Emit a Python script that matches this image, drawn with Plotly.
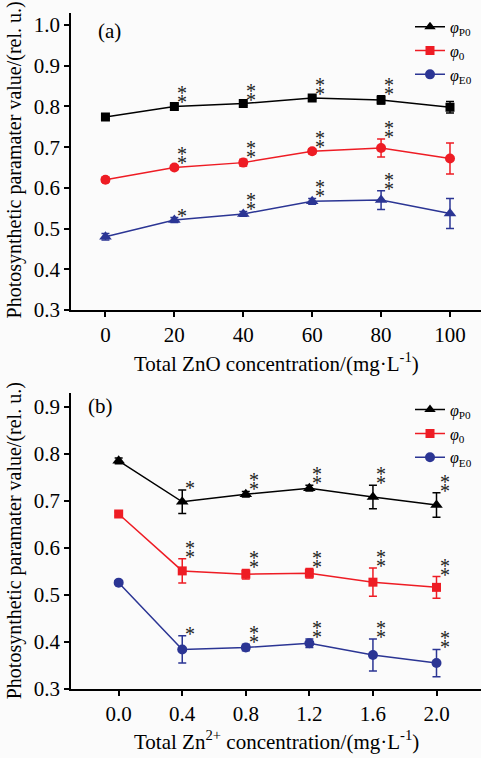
import plotly.graph_objects as go

# ---------------- data ----------------
zno_conc = [0, 20, 40, 60, 80, 100]
a_phiP0 = [0.774, 0.800, 0.807, 0.821, 0.816, 0.798]
a_phiP0_err = [0.004, 0.005, 0.004, 0.004, 0.010, 0.014]
a_phi0 = [0.620, 0.650, 0.662, 0.690, 0.698, 0.672]
a_phi0_err = [0.006, 0.005, 0.008, 0.006, 0.022, 0.038]
a_phiE0 = [0.480, 0.521, 0.536, 0.567, 0.570, 0.537]
a_phiE0_err = [0.008, 0.006, 0.006, 0.007, 0.023, 0.037]
a_sig_P0 = [0, 2, 2, 2, 2, 0]
a_sig_0 = [0, 2, 2, 2, 2, 0]
a_sig_E0 = [0, 1, 2, 2, 2, 0]

zn_conc = [0.0, 0.4, 0.8, 1.2, 1.6, 2.0]
b_phiP0 = [0.785, 0.698, 0.714, 0.727, 0.708, 0.691]
b_phiP0_err = [0.006, 0.025, 0.006, 0.006, 0.025, 0.026]
b_phi0 = [0.672, 0.551, 0.544, 0.546, 0.527, 0.516]
b_phi0_err = [0.004, 0.026, 0.010, 0.010, 0.030, 0.023]
b_phiE0 = [0.526, 0.384, 0.388, 0.397, 0.372, 0.355]
b_phiE0_err = [0.004, 0.029, 0.007, 0.009, 0.034, 0.029]
b_sig_P0 = [0, 1, 2, 2, 2, 2]
b_sig_0 = [0, 2, 2, 2, 2, 2]
b_sig_E0 = [0, 1, 2, 2, 2, 2]

x_ticks_a = [0, 20, 40, 60, 80, 100]
x_ticks_b = [0.0, 0.4, 0.8, 1.2, 1.6, 2.0]
x_ticktext_b = ["0.0", "0.4", "0.8", "1.2", "1.6", "2.0"]

names = ["<i>φ</i><sub>P0</sub>", "<i>φ</i><sub>0</sub>", "<i>φ</i><sub>E0</sub>"]
colors = ["#000000", "#ee1c24", "#2b3594"]
legend_symbols = ["triangle-up", "square", "circle"]

FONT = "Liberation Serif"
W, H = 481, 758
BG = "#fbfbfb"

fig = go.Figure()


def add_series(x, y, err, color, symbol, xa, ya, size):
    fig.add_trace(go.Scatter(
        x=x, y=y, mode="lines+markers", showlegend=False,
        line=dict(color=color, width=1.5),
        marker=dict(symbol=symbol, size=size, color=color),
        error_y=dict(type="data", array=err, visible=True, color=color,
                     thickness=1.5, width=4),
        xaxis=xa, yaxis=ya))


# panel (a): markers differ from legend (as in original)
add_series(zno_conc, a_phiP0, a_phiP0_err, colors[0], "square", "x", "y", 9)
add_series(zno_conc, a_phi0, a_phi0_err, colors[1], "circle", "x", "y", 10)
add_series(zno_conc, a_phiE0, a_phiE0_err, colors[2], "triangle-up", "x", "y", 11)
# panel (b)
add_series(zn_conc, b_phiP0, b_phiP0_err, colors[0], "triangle-up", "x2", "y2", 11)
add_series(zn_conc, b_phi0, b_phi0_err, colors[1], "square", "x2", "y2", 9)
add_series(zn_conc, b_phiE0, b_phiE0_err, colors[2], "circle", "x2", "y2", 10)

# legend-only traces
for lg, xa, ya in [("legend", "x", "y"), ("legend2", "x2", "y2")]:
    for nm, c, s in zip(names, colors, legend_symbols):
        fig.add_trace(go.Scatter(
            x=[None], y=[None], mode="lines+markers", name=nm, legend=lg,
            line=dict(color=c, width=1.5),
            marker=dict(symbol=s, size=10 if s != "square" else 9, color=c),
            xaxis=xa, yaxis=ya))

# significance asterisks
ann = []


def add_stars(x, y, err, sig, xref, yref):
    for xi, yi, ei, n in zip(x, y, err, sig):
        for k in range(n):
            ann.append(dict(x=xi, y=yi + ei, xref=xref, yref=yref, text="*",
                            showarrow=False, xanchor="center", yanchor="middle",
                            xshift=8, yshift=2 + 9 * k,
                            font=dict(family=FONT, size=20, color="#222222")))


add_stars(zno_conc, a_phiP0, a_phiP0_err, a_sig_P0, "x", "y")
add_stars(zno_conc, a_phi0, a_phi0_err, a_sig_0, "x", "y")
add_stars(zno_conc, a_phiE0, a_phiE0_err, a_sig_E0, "x", "y")
add_stars(zn_conc, b_phiP0, b_phiP0_err, b_sig_P0, "x2", "y2")
add_stars(zn_conc, b_phi0, b_phi0_err, b_sig_0, "x2", "y2")
add_stars(zn_conc, b_phiE0, b_phiE0_err, b_sig_E0, "x2", "y2")

# panel labels & axis titles
xl, xr = 71 / W, 1.0
a_top, a_bot = 1 - 13 / H, 1 - 315 / H
b_top, b_bot = 1 - 399 / H, 1 - 700 / H


def txt(x, y, text, size, angle=0):
    return dict(x=x, y=y, xref="paper", yref="paper", text=text,
                textangle=angle, showarrow=False, xanchor="center",
                yanchor="middle",
                font=dict(family=FONT, size=size, color="black"))


ann += [
    txt(109 / W, 1 - 32 / H, "(a)", 21),
    txt(100 / W, 1 - 413 / H, "(b)", 21),
    txt(14 / W, 1 - 163 / H,
        "Photosynthetic paramater value/(rel. u.)", 20, -90),
    txt(14 / W, 1 - 550 / H,
        "Photosynthetic paramater value/(rel. u.)", 20, -90),
    txt((71 + 481) / 2 / W, 1 - 368 / H,
        "Total ZnO concentration/(mg·L<sup>-1</sup>)", 21),
    txt((71 + 481) / 2 / W, 1 - 752 / H,
        "Total Zn<sup>2+</sup> concentration/(mg·L<sup>-1</sup>)", 21),
]

axis_common = dict(showline=True, linecolor="black", linewidth=1.5,
                   ticks="outside", ticklen=5, tickwidth=1.5, tickcolor="black",
                   showgrid=False, zeroline=False, mirror=False,
                   tickfont=dict(family=FONT, size=21, color="black"))

fig.update_layout(
    width=W, height=H,
    margin=dict(l=0, r=0, t=0, b=0),
    paper_bgcolor=BG, plot_bgcolor=BG,
    font=dict(family=FONT, color="black"),
    xaxis=dict(domain=[xl, xr], range=[-10, 109], tickvals=x_ticks_a,
               anchor="y", **axis_common),
    yaxis=dict(domain=[a_bot, a_top], range=[0.3, 1.03], dtick=0.1,
               tickformat=".1f", anchor="x", **axis_common),
    xaxis2=dict(domain=[xl, xr], range=[-0.3, 2.28], tickvals=x_ticks_b,
                ticktext=x_ticktext_b, anchor="y2", **axis_common),
    yaxis2=dict(domain=[b_bot, b_top], range=[0.3, 0.93], dtick=0.1,
                tickformat=".1f", anchor="x2", **axis_common),
    legend=dict(x=410 / W, y=1 - 10 / H, xanchor="left", yanchor="top",
                bgcolor="rgba(0,0,0,0)", font=dict(family=FONT, size=16),
                itemwidth=30),
    legend2=dict(x=410 / W, y=1 - 399 / H, xanchor="left", yanchor="top",
                 bgcolor="rgba(0,0,0,0)", font=dict(family=FONT, size=16),
                 itemwidth=30),
    annotations=ann,
)

fig.write_html("out.html", config={"displayModeBar": False},
               post_script="document.body.style.margin='0';"
                           "document.body.style.overflow='hidden';")
